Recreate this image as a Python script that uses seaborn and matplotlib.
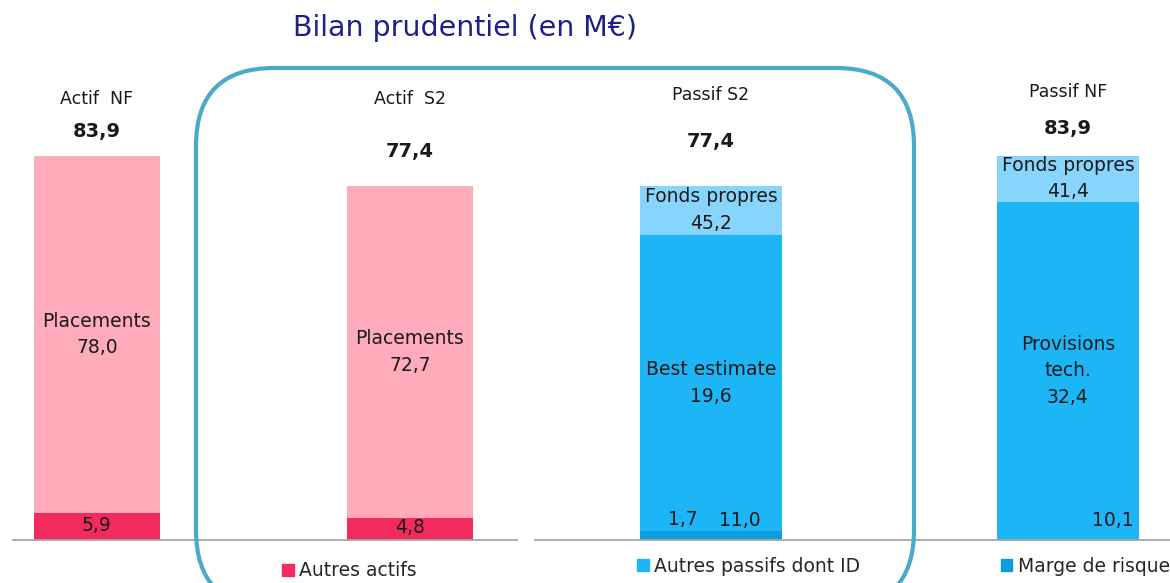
import matplotlib.pyplot as plt
import seaborn as sns
import numpy as np
from matplotlib.patches import FancyBboxPatch, Patch

# left panel : actif
actif_cats = ["Actif  NF", "Actif  S2"]
autres_actifs = [5.9, 4.8]
placements = [78.0, 72.6]
actif_totals_txt = ["83,9", "77,4"]
placements_txt = ["Placements\n78,0", "Placements\n72,7"]
autres_actifs_txt = ["5,9", "4,8"]

# right panel : passif (segment heights as drawn in the picture)
passif_cats = ["Passif S2", "Passif NF"]
marge_risque = [2.0, 0.0]
provisions = [64.6, 73.9]
fonds_propres = [10.8, 10.0]
passif_totals_txt = ["77,4", "83,9"]
fonds_txt = ["Fonds propres\n45,2", "Fonds propres\n41,4"]
provisions_txt = ["Best estimate\n19,6", "Provisions\ntech.\n32,4"]
marge_txt = ["1,7", ""]
autres_passifs_txt = ["11,0", "10,1"]

PINK_LIGHT = "#ffabba"
PINK_DARK = "#f22a5e"
BLUE = "#1cb6f7"
BLUE_DARK = "#0a9fdc"
BLUE_LIGHT = "#87d5fc"
AXIS_GREY = "#a6a6a6"
TXT = "#1a1a1a"

sns.set_style("white")
plt.rcParams['font.family'] = ['DejaVu Sans']

W, H = 1170, 583
fig = plt.figure(figsize=(W / 100, H / 100), dpi=100)
ax1 = fig.add_axes([13 / W, 43 / H, 504 / W, 480 / H])
ax2 = fig.add_axes([535 / W, 43 / H, 635 / W, 480 / H])
ymax = 480 / 4.58

# stacked bars drawn as cumulative layers
a_tot = np.array(autres_actifs) + np.array(placements)
sns.barplot(x=actif_cats, y=a_tot, color=PINK_LIGHT, saturation=1, width=0.4,
            linewidth=0, ax=ax1)
sns.barplot(x=actif_cats, y=autres_actifs, color=PINK_DARK, saturation=1, width=0.4,
            linewidth=0, ax=ax1)

p_mid = np.array(marge_risque) + np.array(provisions)
p_tot = p_mid + np.array(fonds_propres)
sns.barplot(x=passif_cats, y=p_tot, color=BLUE_LIGHT, saturation=1, width=0.4,
            linewidth=0, ax=ax2)
sns.barplot(x=passif_cats, y=p_mid, color=BLUE, saturation=1, width=0.4,
            linewidth=0, ax=ax2)
sns.barplot(x=passif_cats, y=marge_risque, color=BLUE_DARK, saturation=1, width=0.4,
            linewidth=0, ax=ax2)

for ax, xl in [(ax1, (-0.268, 1.342)), (ax2, (-0.493, 1.286))]:
    ax.set_xlim(*xl)
    ax.set_ylim(0, ymax)
    ax.set_xticks([0.5])
    ax.set_xticklabels([])
    ax.set_yticks([])
    ax.set_xlabel("")
    ax.set_ylabel("")
    for s in ["top", "left", "right"]:
        ax.spines[s].set_visible(False)
    ax.spines["bottom"].set_color(AXIS_GREY)
    ax.spines["bottom"].set_linewidth(1.3)
    ax.tick_params(axis="x", direction="in", length=5, color=AXIS_GREY, width=1)
    ax.patch.set_alpha(0)

FS = 13.5

# actif labels
name_y = [96.2, 96.2]
tot_y = [89.2, 84.9]
for i in range(2):
    ax1.text(i, name_y[i], actif_cats[i], ha="center", va="center", fontsize=12.5, color=TXT)
    ax1.text(i, tot_y[i], actif_totals_txt[i], ha="center", va="center", fontsize=14,
             fontweight="bold", color=TXT)
    ax1.text(i, autres_actifs[i] + placements[i] / 2, placements_txt[i], ha="center",
             va="center", fontsize=FS, color=TXT, linespacing=1.5)
    ax1.text(i, autres_actifs[i] / 2 + 0.3, autres_actifs_txt[i], ha="center", va="center",
             fontsize=FS, color=TXT)

# passif labels
name_y = [97.2, 97.9]
tot_y = [87.0, 89.8]
small_dx = [0.08, 0.125]
for i in range(2):
    ax2.text(i, name_y[i], passif_cats[i], ha="center", va="center", fontsize=12.5, color=TXT)
    ax2.text(i, tot_y[i], passif_totals_txt[i], ha="center", va="center", fontsize=14,
             fontweight="bold", color=TXT)
    ax2.text(i, p_mid[i] + fonds_propres[i] / 2, fonds_txt[i], ha="center", va="center",
             fontsize=FS, color=TXT, linespacing=1.5)
    ax2.text(i, marge_risque[i] + provisions[i] / 2, provisions_txt[i], ha="center",
             va="center", fontsize=FS, color=TXT, linespacing=1.5)
    ax2.text(i - 0.08, 4.4, marge_txt[i], ha="center", va="center", fontsize=FS, color=TXT)
    ax2.text(i + small_dx[i], 4.3, autres_passifs_txt[i], ha="center", va="center",
             fontsize=FS, color=TXT)

# legends
leg_kw = dict(frameon=False, fontsize=FS, handlelength=0.6, handleheight=0.6,
              handletextpad=0.3, borderpad=0, loc="center left",
              bbox_transform=fig.transFigure)
fig.legend(handles=[Patch(color=PINK_DARK, label="Autres actifs")],
           bbox_to_anchor=(273 / W, 12 / H), **leg_kw)
fig.legend(handles=[Patch(color=BLUE, label="Autres passifs dont ID"),
                    Patch(color=BLUE_DARK, label="Marge de risque")],
           bbox_to_anchor=(628 / W, 17 / H), ncol=2, columnspacing=7.5, **leg_kw)

# title
fig.text(465 / W, 1 - 28 / H, "Bilan prudentiel (en M€)", ha="center", va="center",
         fontsize=20.5, color="#1f1f8c")

# rounded frame around the S2 columns
frame = FancyBboxPatch((1.96, -0.25), 7.18, 5.40, boxstyle="round,pad=0,rounding_size=0.78",
                       transform=fig.dpi_scale_trans, fill=False, edgecolor="#4aaac8",
                       linewidth=3, clip_on=False)
fig.add_artist(frame)

fig.savefig("out.png", dpi=100)
